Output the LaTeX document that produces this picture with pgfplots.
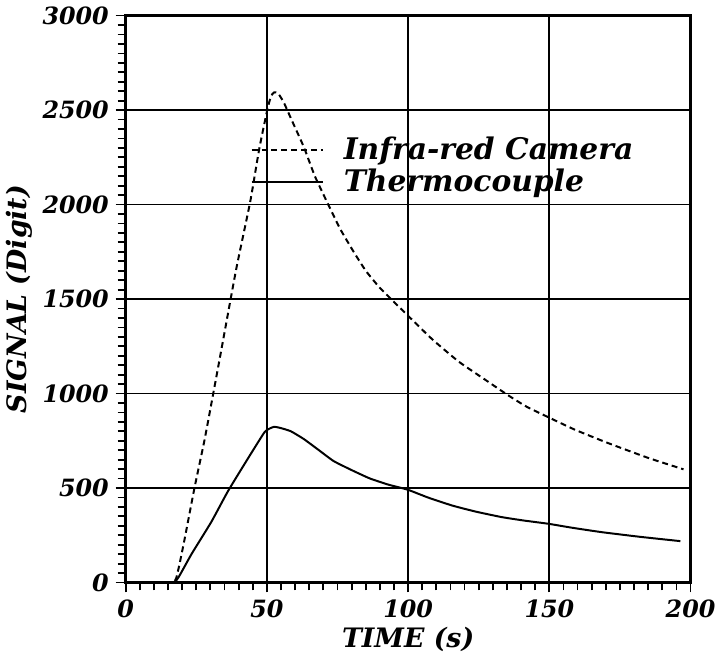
\documentclass[border=0pt]{standalone}
\usepackage{fontspec}
\setmainfont{DejaVu Serif}
\usepackage{pgfplots}
\pgfplotsset{compat=1.18}

\begin{document}
\begin{tikzpicture}
\begin{axis}[
  scale only axis,
  width=285pt, height=286pt,
  xmin=0, xmax=200, ymin=0, ymax=3000,
  xtick={0,50,100,150,200},
  ytick={0,500,1000,1500,2000,2500,3000},
  minor x tick num=9,
  minor y tick num=9,
  xtick pos=bottom, ytick pos=left,
  tick align=outside,
  major tick length=5pt, minor tick length=4pt,
  every tick/.style={black, line width=0.9pt},
  axis line style={line width=1.2pt},
  grid=major,
  major grid style={black, line width=0.9pt},
  /pgf/number format/assume math mode=true,
  /pgf/number format/1000 sep={},
  tick label style={font=\fontsize{12}{14}\selectfont\bfseries\itshape},
  xlabel={TIME (s)},
  ylabel={SIGNAL (Digit)},
  label style={font=\fontsize{13.5}{16}\selectfont\bfseries\itshape},
  xlabel style={yshift=2pt},
  ylabel style={yshift=-2pt},
  legend style={draw=none, fill=none, at={(0.21,0.80)}, anchor=north west,
    font=\fontsize{15}{17}\selectfont\bfseries\itshape,
    row sep=-1pt,
    /tikz/every odd column/.append style={column sep=8pt}},
  legend cell align=left,
  legend image code/.code={\draw[#1, line width=1pt] (0pt,0pt) -- (36pt,0pt);},
]
\addplot[black, line width=1pt, dash pattern=on 3pt off 2pt, smooth, tension=0.3] coordinates {
  (0,0) (16.5,0) (18.5,60) (20.9,232) (24.4,503)
  (28,760) (33,1160) (39.1,1655) (44.1,2015) (47.3,2295)
  (50.2,2505) (51.5,2575) (52.6,2594) (54,2588) (56,2540) (59,2440)
  (63.1,2304) (67,2150) (71.8,1998) (76,1870) (80.6,1753) (85,1650)
  (89.9,1561) (95.8,1473) (100.5,1404) (108.7,1285) (118,1168)
  (127.4,1072) (135.5,990) (142,930) (149.6,875) (159,809) (170.6,739)
  (184.7,661) (197.5,599)
};
\addlegendentry{Infra-red Camera}
\addplot[black, line width=1pt, smooth, tension=0.3] coordinates {
  (0,0) (16.3,0) (18.6,25) (23.3,150) (30.3,320) (36.1,480) (42,625)
  (49,792) (51,815) (52.6,824) (54.5,819) (58.4,801) (63,760) (68,705)
  (73.6,643) (80,595) (86.4,551) (93,518) (99.9,491) (107,450)
  (115.7,407) (124,375) (133.2,346) (141,328) (149.6,311) (158,290)
  (168.3,267) (182,242) (196.4,219)
};
\addlegendentry{Thermocouple}
\end{axis}
\end{tikzpicture}
\end{document}
